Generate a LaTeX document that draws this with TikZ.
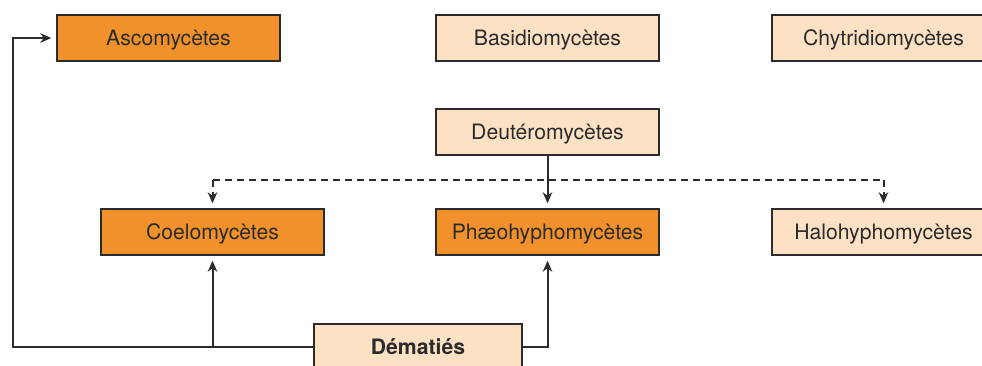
\documentclass[tikz,border=0pt]{standalone}
\usepackage{fontspec}
\setmainfont{TeX Gyre Heros}
\usetikzlibrary{arrows.meta}
\definecolor{fungorange}{HTML}{F0912C}
\definecolor{funglight}{HTML}{FCE1C4}
\definecolor{fungline}{HTML}{2B2B2B}

\begin{document}
\begin{tikzpicture}[x=0.5pt,y=0.5pt,
    taxon/.style={draw=fungline,line width=0.75pt,minimum width=111.5pt,minimum height=23pt,
      inner sep=0pt,text depth=0pt,font=\fontsize{10.6}{12}\selectfont,text=fungline},
    hot/.style={taxon,fill=fungorange},
    cold/.style={taxon,fill=funglight},
    link/.style={-{Stealth[length=5.5pt,width=4.8pt]},line width=1pt,draw=fungline,shorten >=2.5pt}]
  \useasboundingbox (0,0) rectangle (982,365);

  % top row
  \node[hot]  (asco)    at (168.5,327) {Ascomycètes};
  \node[cold] (basidio) at (547.5,327) {Basidiomycètes};
  \node[cold] (chytri)  at (883.5,327) {Chytridiomycètes};

  \node[cold] (deutero) at (547.5,233) {Deutéromycètes};

  % middle row
  \node[hot]  (coelo) at (212.5,133) {Coelomycètes};
  \node[hot]  (phaeo) at (547.5,133) {Phæohyphomycètes};
  \node[cold] (halo)  at (883.5,133) {Halohyphomycètes};

  \node[cold,minimum width=104pt] (demat) at (418,18) {\textbf{Dématiés}};

  \coordinate (fork) at (547.5,185);
  \coordinate (turn) at (13,18);

  \draw[link] (deutero.south) -- (phaeo.north);
  \draw[line width=1pt,draw=fungline,dash pattern=on 3.5pt off 2.5pt]
    (fork -| coelo.north) -- (fork -| halo.north);
  \foreach \to in {coelo,halo}{
    \draw[link,dash pattern=on 3.5pt off 2.5pt] (fork -| \to.north) -- (\to.north);
  }

  \draw[link] (demat.west) -- (turn) |- (asco.west);
  \draw[link] (demat.west -| coelo.south) -- (coelo.south);
  \draw[link] (demat.east) -| (phaeo.south);
\end{tikzpicture}
\end{document}
